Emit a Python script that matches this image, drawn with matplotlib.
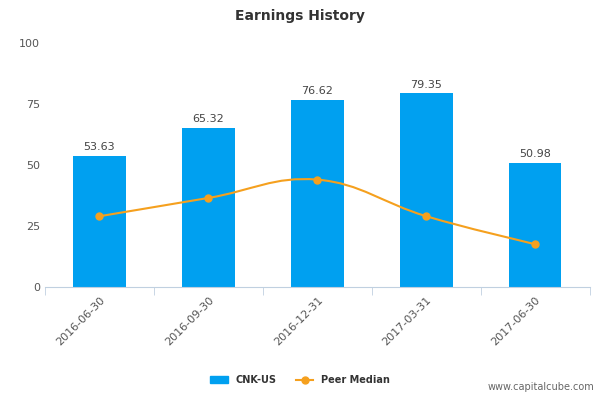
import matplotlib
matplotlib.use("Agg")
import matplotlib.pyplot as plt
from matplotlib.path import Path
from matplotlib.patches import PathPatch
import numpy as np

categories = ["2016-06-30", "2016-09-30", "2016-12-31", "2017-03-31", "2017-06-30"]
cnk_values = [53.63, 65.32, 76.62, 79.35, 50.98]
peer_median = [29.0, 36.5, 44.0, 29.0, 17.5]

fig = plt.figure(figsize=(6, 4), dpi=100)
ax = fig.add_axes([0.075, 0.2825, 0.908, 0.61])
x = np.arange(len(categories))
ax.bar(x, cnk_values, width=0.48, color="#00a0f0", zorder=2)
for xi, v in zip(x, cnk_values):
    ax.text(xi, v + 1.5, f"{v:.2f}", ha="center", va="bottom", fontsize=8, color="#444444")

# smooth curve via cubic Bezier segments (Catmull-Rom style control points)
pts = np.column_stack([x, peer_median]).astype(float)
verts = [pts[0]]
codes = [Path.MOVETO]
t = 0.2
for i in range(len(pts) - 1):
    p0 = pts[i - 1] if i > 0 else pts[i]
    p1, p2 = pts[i], pts[i + 1]
    p3 = pts[i + 2] if i + 2 < len(pts) else pts[i + 1]
    c1 = p1 + (p2 - p0) * t
    c2 = p2 - (p3 - p1) * t
    verts += [c1, c2, p2]
    codes += [Path.CURVE4] * 3
ax.add_patch(PathPatch(Path(verts, codes), fill=False, edgecolor="#f5a01e", lw=1.5, zorder=3))
ax.plot(x, peer_median, "o", color="#f5a01e", markersize=5, zorder=4)

ax.set_xlim(-0.5, len(categories) - 0.5)
ax.set_ylim(0, 100)
ax.set_yticks([0, 25, 50, 75, 100])
ax.tick_params(axis="y", length=0, labelsize=8, colors="#555555")
ax.set_xticks(np.arange(-0.5, len(categories), 1), minor=True)
ax.set_xticks(x)
ax.set_xticklabels(categories, rotation=45, ha="right", rotation_mode="anchor", fontsize=8, color="#555555")
ax.tick_params(axis="x", which="major", length=0, pad=6)
ax.tick_params(axis="x", which="minor", length=6, color="#c0d0e0")
for s in ["top", "right", "left"]:
    ax.spines[s].set_visible(False)
ax.spines["bottom"].set_color("#c0d0e0")

fig.text(0.5, 0.96, "Earnings History", ha="center", va="center", fontsize=10, fontweight="bold", color="#333333")

from matplotlib.lines import Line2D
from matplotlib.patches import Patch
handles = [Patch(color="#00a0f0", label="CNK-US"),
           Line2D([0], [0], color="#f5a01e", marker="o", lw=1.5, markersize=5, label="Peer Median")]
leg = fig.legend(handles=handles, loc="center", bbox_to_anchor=(0.5, 0.05), ncol=2, frameon=False,
                 prop={"size": 7, "weight": "bold"}, handlelength=1.8, columnspacing=2)
for t_ in leg.get_texts():
    t_.set_color("#333333")
fig.text(0.99, 0.02, "www.capitalcube.com", ha="right", va="bottom", fontsize=7, color="#666666")
fig.savefig("out.png", dpi=100)
